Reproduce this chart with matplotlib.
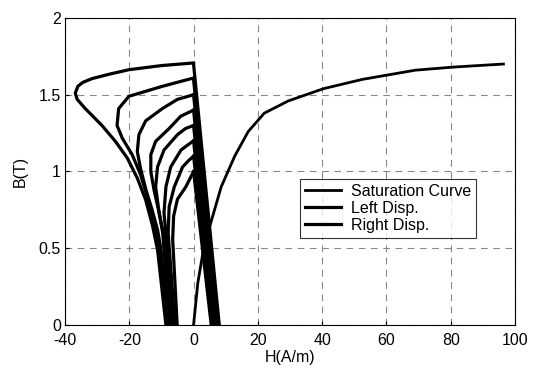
import matplotlib.pyplot as plt

plt.rcParams['font.family'] = ['Liberation Sans', 'DejaVu Sans']
plt.rcParams['axes.unicode_minus'] = False

# Saturation curve
sat_h = [0, 1.3, 2.9, 5, 8.6, 12.8, 17, 22, 29.5, 40.5, 52.5, 69, 80.7, 96.4]
sat_b = [0, 0.27, 0.47, 0.64, 0.9, 1.1, 1.26, 1.38, 1.46, 1.54, 1.6, 1.66, 1.68, 1.70]

# Left displacement curves (one per starting flux level)
left_h = [
    [0, -10, -20.1, -26, -31.6, -34.5, -36, -36.8, -36.2, -33.7, -28.5, -24.3,
     -20.6, -17.5, -14.9, -12.8, -11.2, -8.6],
    [0, -9.7, -20.1, -23.3, -23.8, -22.2, -19.1, -16.5, -14.3, -12.3, -10.8, -8.2],
    [0, -5, -9.7, -14.9, -17, -17.5, -16.5, -14.8, -12.9, -11.2, -10.2, -7.8],
    [0, -4, -7.6, -11.8, -13.3, -13.3, -12.3, -10.8, -9.6, -7.4],
    [0, -2.5, -5, -9.2, -11.2, -11.8, -10.7, -9.2, -6.9],
    [0, -2, -3.9, -7.1, -8.6, -9.2, -8.6, -6.4],
    [0, -1.6, -3.4, -6, -7.6, -7.9, -5.8],
    [0, -1.2, -2.4, -5, -6.2, -6.5, -5.1],
]
left_b = [
    [1.707, 1.69, 1.663, 1.635, 1.605, 1.58, 1.555, 1.51, 1.47, 1.41, 1.30, 1.196,
     1.087, 0.957, 0.815, 0.65, 0.49, 0],
    [1.609, 1.555, 1.49, 1.41, 1.30, 1.218, 1.11, 0.98, 0.83, 0.68, 0.52, 0],
    [1.5, 1.47, 1.41, 1.33, 1.24, 1.13, 1.02, 0.88, 0.75, 0.62, 0.50, 0],
    [1.4, 1.36, 1.28, 1.196, 1.11, 1.0, 0.88, 0.74, 0.60, 0],
    [1.3, 1.28, 1.24, 1.14, 1.03, 0.90, 0.73, 0.58, 0],
    [1.2, 1.17, 1.14, 1.03, 0.90, 0.73, 0.60, 0],
    [1.1, 1.07, 1.03, 0.90, 0.77, 0.60, 0],
    [1.0, 0.95, 0.90, 0.82, 0.71, 0.56, 0],
]

# Right displacement curves: start flux level and end field at B=0
right_b0 = [1.7, 1.6, 1.5, 1.4, 1.3, 1.2, 1.1, 1.0]
right_h_end = [8.0, 7.6, 7.3, 6.9, 6.6, 6.2, 5.9, 5.5]

fig = plt.figure(figsize=(5.34, 3.67), dpi=100)
ax = fig.add_axes([0.1217, 0.1144, 0.8427, 0.8366])

ax.grid(True, color='#888888', linestyle=(0, (6, 5)), linewidth=0.8)
ax.set_axisbelow(True)

ax.plot(sat_h, sat_b, color='black', linewidth=2.0, solid_joinstyle='round',
        label='Saturation Curve')
for i, (h, b) in enumerate(zip(left_h, left_b)):
    ax.plot(h, b, color='black', linewidth=2.3, solid_joinstyle='round',
            label='Left Disp.' if i == 0 else None)
for i, (b0, he) in enumerate(zip(right_b0, right_h_end)):
    ax.plot([0, he], [b0, 0], color='black', linewidth=2.3,
            label='Right Disp.' if i == 0 else None)

ax.set_xlim(-40, 100)
ax.set_ylim(0, 2)
ax.set_xticks([-40, -20, 0, 20, 40, 60, 80, 100])
ax.set_yticks([0, 0.5, 1, 1.5, 2])
ax.set_yticklabels(['0', '0.5', '1', '1.5', '2'])
ax.tick_params(axis='x', direction='in', length=3, labelsize=11.5, pad=6)
ax.tick_params(axis='y', direction='in', length=3, labelsize=11.5, pad=3)
for s in ax.spines.values():
    s.set_linewidth(0.8)

ax.set_xlabel('H(A/m)', fontsize=11.5, labelpad=1)
ax.set_ylabel('B(T)', fontsize=11.5, labelpad=8)

leg = ax.legend(loc='upper left', bbox_to_anchor=(0.522, 0.475), fontsize=11.5,
                frameon=True, fancybox=False, edgecolor='black',
                handlelength=2.3, borderpad=0.3, labelspacing=0.12,
                handletextpad=0.6, borderaxespad=0)
leg.get_frame().set_linewidth(0.8)

fig.savefig('out.png', dpi=100)
